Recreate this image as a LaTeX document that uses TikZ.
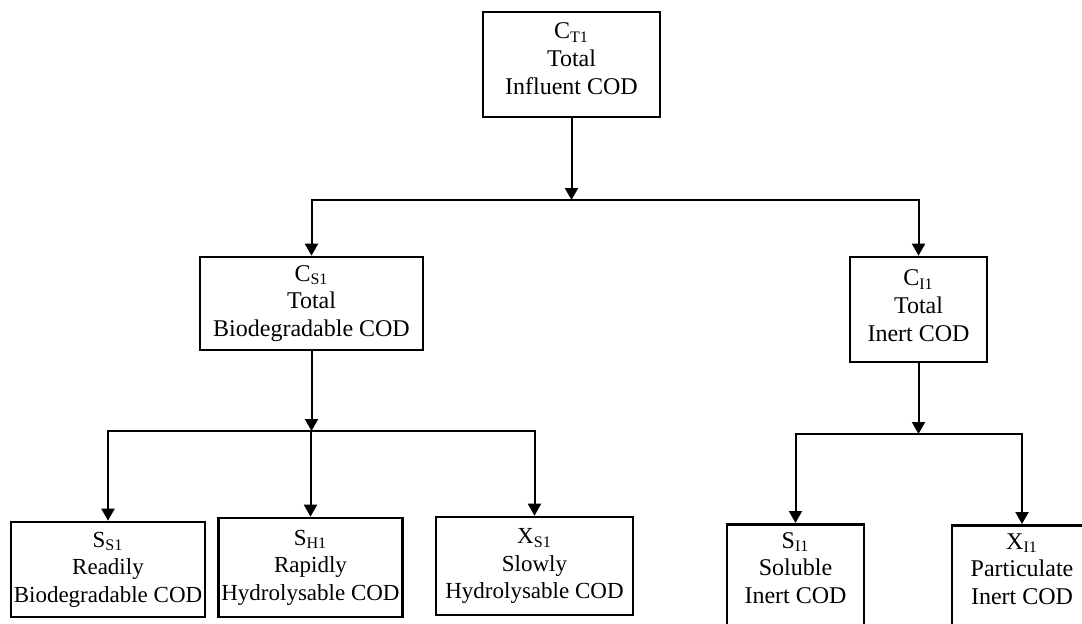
\documentclass[tikz,border=0pt]{standalone}
\usepackage{fontspec}
\setmainfont{Liberation Serif}
\usepackage{tikz}
\usetikzlibrary{arrows.meta}

\begin{document}
\begin{tikzpicture}[x=0.5pt, y=0.5pt,
    box/.style={draw, line width=1.3pt, align=center, inner sep=0pt,
        font=\fontsize{12}{13.8}\selectfont},
    lowbox/.style={box, font=\fontsize{11.5}{13.8}\selectfont},
    openbox/.style={box, anchor=north, inner ysep=4pt, text depth=60pt},
    arr/.style={line width=1pt, -{Triangle[width=6.5pt,length=6pt]}}]
    \useasboundingbox (0,0) rectangle (1082,623);
    \clip (0,0) rectangle (1082,623);

    \node (ct) [box, text depth=6pt, minimum width=88.5pt, minimum height=52.5pt] at (571.5,558.5)
        {C\textsubscript{T1}\\Total\\Influent COD};
    \node (cs) [box, minimum width=111.5pt, minimum height=46.5pt] at (311.5,319.5)
        {C\textsubscript{S1}\\Total\\Biodegradable COD};
    \node (ci) [box, text depth=4pt, minimum width=68.5pt, minimum height=52.5pt] at (918.5,313.5)
        {C\textsubscript{I1}\\Total\\Inert COD};

    \node (ss) [lowbox, minimum width=97pt, minimum height=47.5pt] at (108,53.5)
        {S\textsubscript{S1}\\Readily\\Biodegradable COD};
    \node (sh) [lowbox, minimum width=92pt, minimum height=49.5pt] at (310.5,55.5)
        {S\textsubscript{H1}\\Rapidly\\Hydrolysable COD};
    \node (xs) [lowbox, minimum width=98.5pt, minimum height=49pt] at (534.5,57)
        {X\textsubscript{S1}\\Slowly\\Hydrolysable COD};
    \node (si) [openbox, minimum width=68.5pt] at (795.5,100)
        {S\textsubscript{I1}\\Soluble\\Inert COD};
    \node (xi) [openbox, minimum width=70pt] at (1022,99)
        {X\textsubscript{I1}\\Particulate\\Inert COD};

    \coordinate (topbus) at (571.5,423);
    \coordinate (csbus) at (311.5,192);
    \coordinate (cibus) at (918.5,189);

    \draw[arr] (ct) -- (topbus);
    \draw[arr] (topbus) -| (cs);
    \draw[arr] (topbus) -| (ci);
    \draw[arr] (cs) -- (csbus);
    \draw[arr] (csbus) -| (ss);
    \draw[arr] (csbus) -| (sh);
    \draw[arr] (csbus) -| (xs);
    \draw[arr] (ci) -- (cibus);
    \draw[arr] (cibus) -| (si);
    \draw[arr] (cibus) -| (xi);
\end{tikzpicture}
\end{document}
